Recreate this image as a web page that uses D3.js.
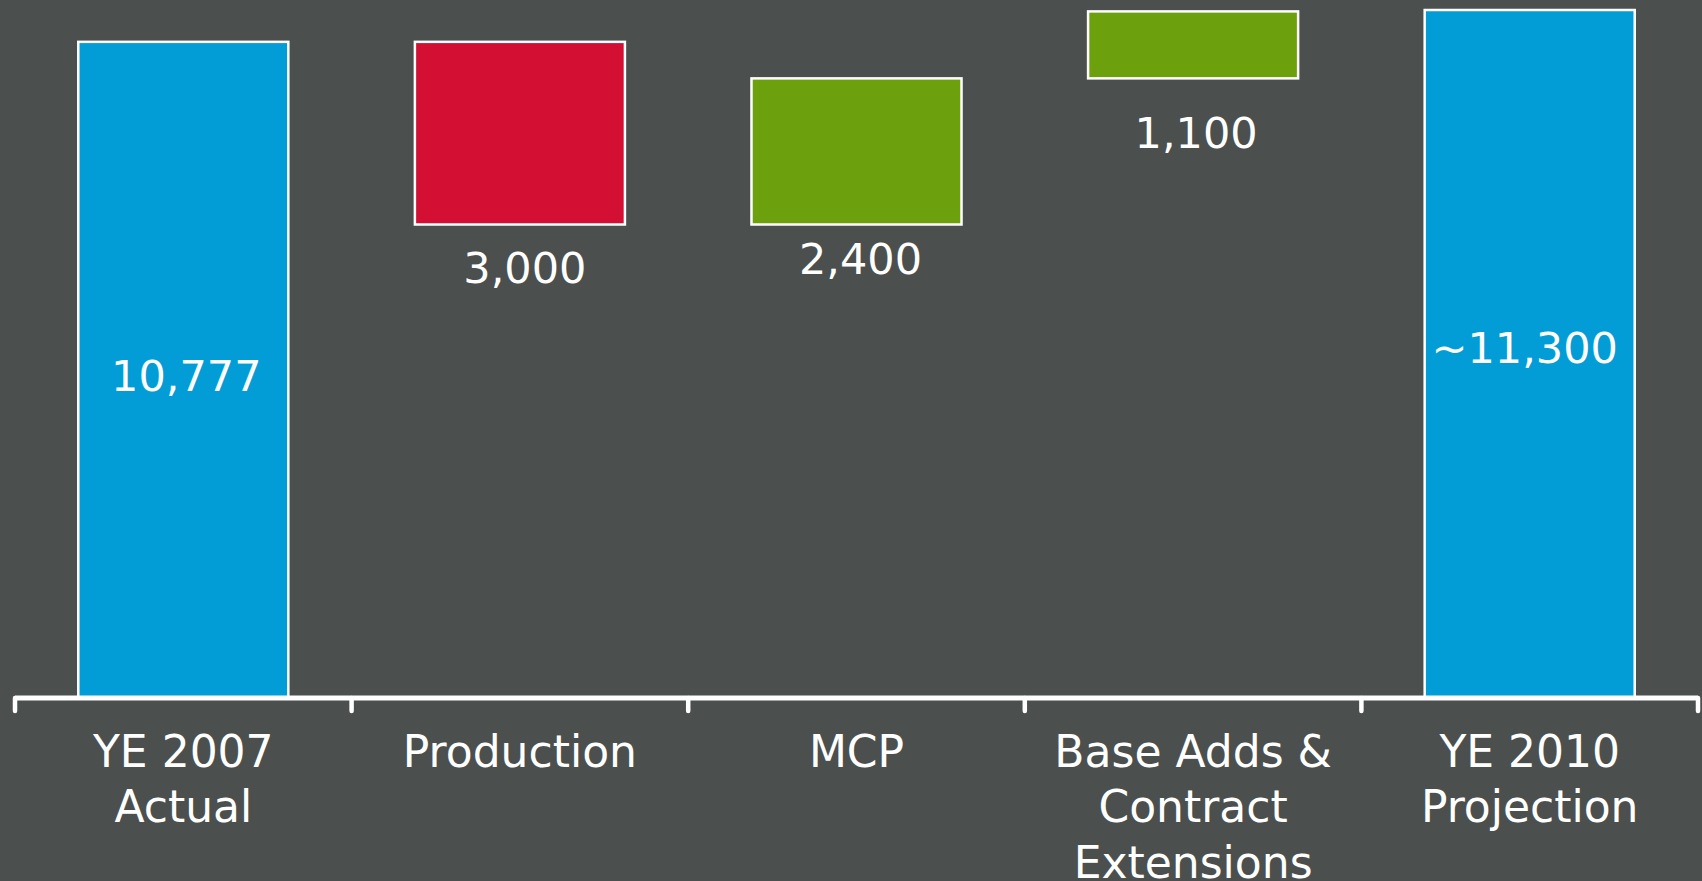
<!DOCTYPE html>
<html>
<head>
<meta charset="utf-8">
<script src="https://cdn.jsdelivr.net/npm/d3@7"></script>
<style>
  html, body { margin: 0; padding: 0; background: #4b4f4e; overflow: hidden; }
  text { font-family: "DejaVu Sans", Verdana, sans-serif; fill: #ffffff; }
</style>
</head>
<body>
<div id="chart"></div>
<script>
// waterfall: start total, changes, end total
var categories = ["YE 2007 Actual", "Production", "MCP", "Base Adds & Contract Extensions", "YE 2010 Projection"];
var categoryLines = [["YE 2007", "Actual"], ["Production"], ["MCP"], ["Base Adds &", "Contract", "Extensions"], ["YE 2010", "Projection"]];
var values = [10777, -3000, 2400, 1100, 11300];
var kinds = ["total", "delta", "delta", "delta", "total"];
var valueLabels = ["10,777", "3,000", "2,400", "1,100", "~11,300"];

// label placement tweaks (dx, dy from bar middle / bar bottom)
var labelDx = [3, 5, 4, 3, -5];
var labelDy = [21, 59, 50, 70, 9];

var width = 1702;
var height = 881;

var colors = { total: "#029dd6", up: "#6ca00c", down: "#d31034" };

var svg = d3.select("#chart")
  .append("svg")
    .attr("width", width)
    .attr("height", height)

svg.append("rect")
    .attr("width", width)
    .attr("height", height)
    .attr("fill", "#4b4f4e")

var x = d3.scaleBand()
    .domain(categories)
    .range([15, 1698])
    .paddingInner(0.376)
    .paddingOuter(0.188)

var y = d3.scaleLinear()
    .domain([0, 11300])
    .range([698, 10])

// running totals for the floating bars
var running = 0;
var bars = categories.map(function(c, i) {
  var v = values[i], lo, hi;
  if (kinds[i] == "total") {
    lo = 0; hi = v; running = v;
  } else {
    var next = running + v;
    lo = Math.min(running, next); hi = Math.max(running, next);
    running = next;
  }
  return { cat: c, i: i, v: v, kind: kinds[i], lo: lo, hi: hi };
});

svg.append("g")
  .selectAll("rect")
  .data(bars)
  .enter()
  .append("rect")
    .attr("x", function(d) { return x(d.cat); })
    .attr("width", x.bandwidth())
    .attr("y", function(d) { return y(d.hi); })
    .attr("height", function(d) { return y(d.lo) - y(d.hi); })
    .attr("fill", function(d) {
      if (d.kind == "total") return colors.total;
      return d.v < 0 ? colors.down : colors.up;
    })
    .attr("stroke", "#ffffff")
    .attr("stroke-width", 2.5)

// value labels
svg.append("g")
  .selectAll("text")
  .data(bars)
  .enter()
  .append("text")
    .attr("x", function(d) { return x(d.cat) + x.bandwidth() / 2 + labelDx[d.i]; })
    .attr("y", function(d) {
      if (d.kind == "total") return (y(d.hi) + y(d.lo)) / 2 + labelDy[d.i];
      return y(d.lo) + labelDy[d.i];
    })
    .attr("text-anchor", "middle")
    .style("font-size", "43px")
    .text(function(d) { return valueLabels[d.i]; })

// axis: baseline with ticks between the categories
var step = x.step();
var tickXs = categories.map(function(c) { return x(c) + x.bandwidth() / 2 - step / 2; });
tickXs.push(x(categories[categories.length - 1]) + x.bandwidth() / 2 + step / 2);

var axis = svg.append("g");
axis.append("line")
    .attr("x1", tickXs[0])
    .attr("x2", tickXs[tickXs.length - 1])
    .attr("y1", y(0))
    .attr("y2", y(0))
    .attr("stroke", "#ffffff")
    .attr("stroke-width", 5)

axis.selectAll(".tick")
  .data(tickXs)
  .enter()
  .append("line")
    .attr("class", "tick")
    .attr("x1", function(d) { return d; })
    .attr("x2", function(d) { return d; })
    .attr("y1", y(0))
    .attr("y2", y(0) + 13)
    .attr("stroke", "#ffffff")
    .attr("stroke-width", 4.5)
    .attr("stroke-linecap", "round")

// category labels, one tspan per line
var catText = axis.selectAll(".cat")
  .data(categories)
  .enter()
  .append("text")
    .attr("class", "cat")
    .attr("text-anchor", "middle")
    .attr("x", function(d) { return x(d) + x.bandwidth() / 2; })
    .attr("y", y(0) + 69)
    .style("font-size", "44px")

catText.selectAll("tspan")
  .data(function(d, i) { return categoryLines[i]; })
  .enter()
  .append("tspan")
    .attr("x", function() { var p = this.parentNode; return p.getAttribute("x"); })
    .attr("dy", function(d, j) { return j == 0 ? 0 : 55.3; })
    .text(function(d) { return d; })
</script>
</body>
</html>
